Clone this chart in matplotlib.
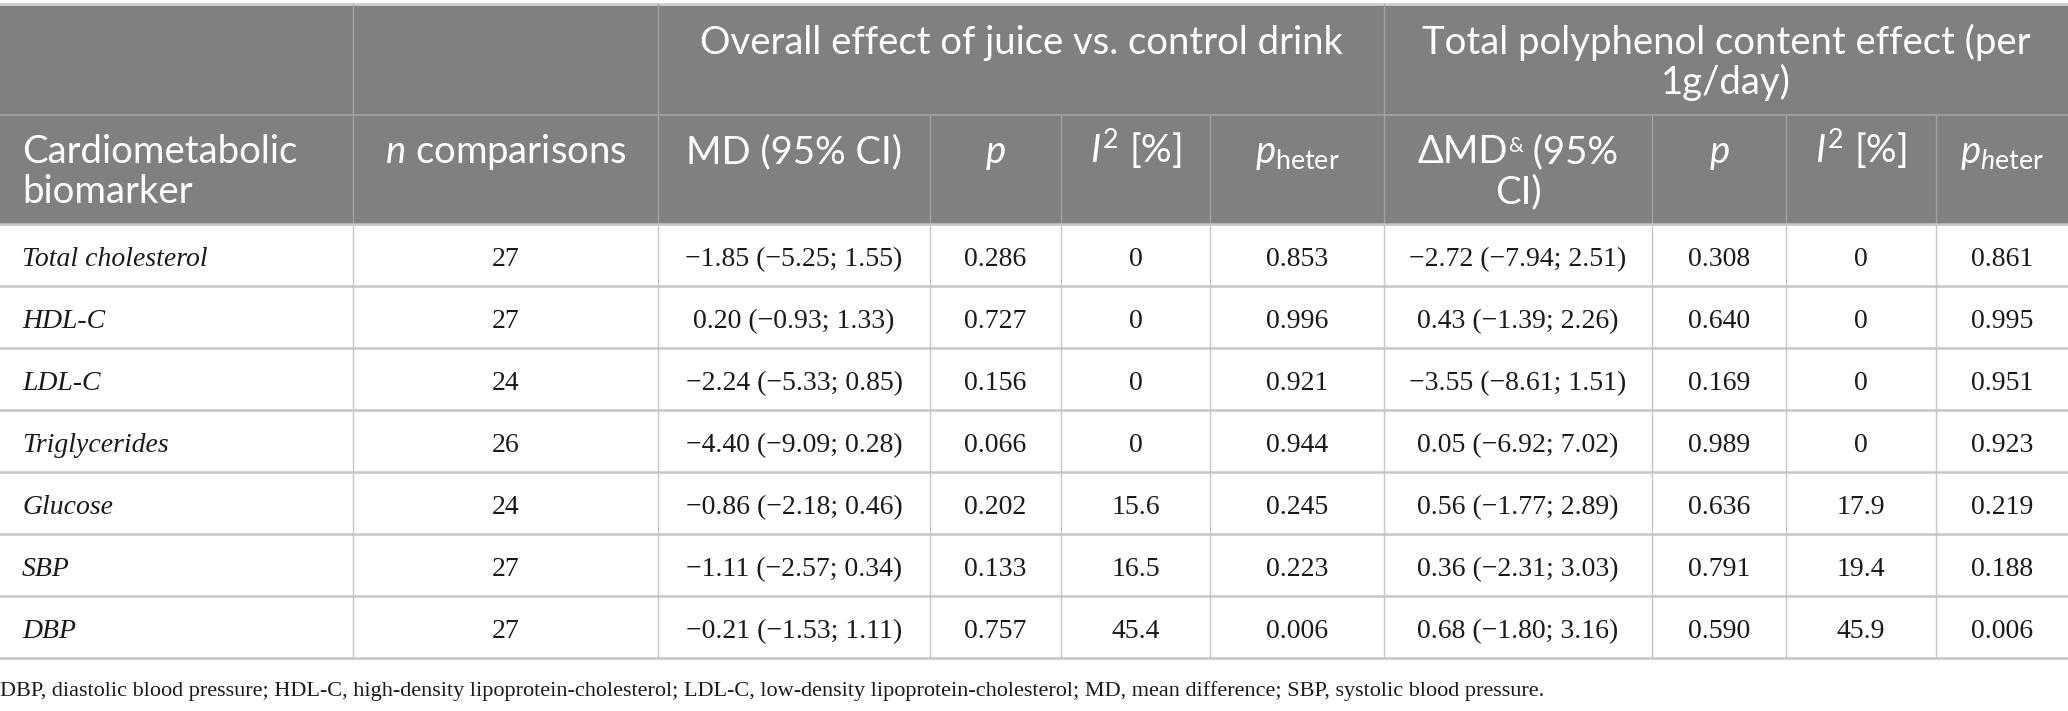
import matplotlib
matplotlib.use("Agg")
import matplotlib.pyplot as plt
from matplotlib.patches import Rectangle

# ---- data ----
biomarkers = ["Total cholesterol", "HDL-C", "LDL-C", "Triglycerides", "Glucose", "SBP", "DBP"]
n_comp = [27, 27, 24, 26, 24, 27, 27]

md_est = [-1.85, 0.20, -2.24, -4.40, -0.86, -1.11, -0.21]
md_lo = [-5.25, -0.93, -5.33, -9.09, -2.18, -2.57, -1.53]
md_hi = [1.55, 1.33, 0.85, 0.28, 0.46, 0.34, 1.11]
p_md = [0.286, 0.727, 0.156, 0.066, 0.202, 0.133, 0.757]
i2_md = [0, 0, 0, 0, 15.6, 16.5, 45.4]
ph_md = [0.853, 0.996, 0.921, 0.944, 0.245, 0.223, 0.006]

tpc_est = [-2.72, 0.43, -3.55, 0.05, 0.56, 0.36, 0.68]
tpc_lo = [-7.94, -1.39, -8.61, -6.92, -1.77, -2.31, -1.80]
tpc_hi = [2.51, 2.26, 1.51, 7.02, 2.89, 3.03, 3.16]
p_tpc = [0.308, 0.640, 0.169, 0.989, 0.636, 0.791, 0.590]
i2_tpc = [0, 0, 0, 0, 17.9, 19.4, 45.9]
ph_tpc = [0.861, 0.995, 0.951, 0.923, 0.219, 0.188, 0.006]

footnote = ("DBP, diastolic blood pressure; HDL-C, high-density lipoprotein-cholesterol; "
            "LDL-C, low-density lipoprotein-cholesterol; MD, mean difference; SBP, systolic blood pressure.")


def num(v, fmt="{:.2f}"):
    return fmt.format(v).replace("-", "\u2212")


def ci(e, lo, hi):
    return "{} ({}; {})".format(num(e), num(lo), num(hi))


def i2(v):
    return "0" if v == 0 else num(v, "{:.1f}")


rows = []
for k in range(len(biomarkers)):
    rows.append([biomarkers[k], str(n_comp[k]),
                 ci(md_est[k], md_lo[k], md_hi[k]), num(p_md[k], "{:.3f}"), i2(i2_md[k]), num(ph_md[k], "{:.3f}"),
                 ci(tpc_est[k], tpc_lo[k], tpc_hi[k]), num(p_tpc[k], "{:.3f}"), i2(i2_tpc[k]), num(ph_tpc[k], "{:.3f}")])

# ---- layout (pixels) ----
W, H = 2068, 711
cols = [0, 353, 658, 930, 1061, 1210, 1384, 1652, 1786, 1936, 2068]
top, h1, h2 = 4, 115, 224
row_h = 62

plt.rcParams["mathtext.fontset"] = "custom"
plt.rcParams["mathtext.rm"] = "Lato"
plt.rcParams["mathtext.it"] = "Lato:italic"

fig = plt.figure(figsize=(W / 100, H / 100), dpi=100)
ax = fig.add_axes([0, 0, 1, 1])
ax.set_xlim(0, W)
ax.set_ylim(H, 0)
ax.axis("off")

hdr_bg = "#808080"
hdr_line = "#a3a3a3"
body_line = "#c6c6c6"
sans = "Lato"
serif = "Liberation Serif"
hfs = 27.5
bfs = 20
txt = "#1a1a1a"

ax.add_patch(Rectangle((0, top), W, h2 - top, color=hdr_bg, zorder=0))

# header lines
ax.plot([0, W], [top, top], color="#cfcfcf", lw=2)
ax.plot([0, W], [h1, h1], color=hdr_line, lw=1.2)
for x in cols[1:-1]:
    y0 = top if x in (cols[1], cols[2], cols[6]) else h1
    ax.plot([x, x], [y0, h2], color=hdr_line, lw=1)

# body lines
nrows = len(rows)
bottom = h2 + row_h * nrows
for i in range(nrows + 1):
    ax.plot([0, W], [h2 + i * row_h] * 2, color=body_line, lw=1.8)
for x in cols[1:-1]:
    ax.plot([x, x], [h2, bottom], color=body_line, lw=1)

# group headers
g1, g2 = 54, 94
ax.text((cols[2] + cols[6]) / 2, g1, "Overall effect of juice vs. control drink",
        ha="center", va="baseline", color="white", fontsize=hfs, family=sans)
ax.text((cols[6] + cols[10]) / 2, g1, "Total polyphenol content effect (per",
        ha="center", va="baseline", color="white", fontsize=hfs, family=sans)
ax.text((cols[6] + cols[10]) / 2, g2, "1g/day)",
        ha="center", va="baseline", color="white", fontsize=hfs, family=sans)

# column headers
hy1, hy2 = 163, 203
ax.text(22, hy1, "Cardiometabolic", ha="left", va="baseline", color="white", fontsize=hfs, family=sans)
ax.text(22, hy2, "biomarker", ha="left", va="baseline", color="white", fontsize=hfs, family=sans)
sub = ["$\\mathit{n}$ comparisons", "MD (95% CI)", "$\\mathit{p}$", "$\\mathit{I}^{2}$ [%]",
       "$\\mathit{p}_{\\mathrm{heter}}$", None, "$\\mathit{p}$",
       "$\\mathit{I}^{2}$ [%]", "$\\mathit{p}_{\\mathit{h}\\mathrm{eter}}$"]
for j, s in enumerate(sub):
    if s is None:
        continue
    xc = (cols[j + 1] + cols[j + 2]) / 2
    ax.text(xc, hy1, s, ha="center", va="baseline", color="white", fontsize=hfs, family=sans)

# "ΔMD& (95%" with a superscript ampersand, built from pieces
fig.canvas.draw()
rend = fig.canvas.get_renderer()
inv = ax.transData.inverted()
pieces = [("\u0394MD", hfs, 0), ("&", hfs * 0.55, -11), (" (95%", hfs, 0)]
widths = []
for s, fs, dy in pieces:
    t = ax.text(0, 0, s, fontsize=fs, family=sans)
    widths.append(t.get_window_extent(rend).width)
    t.remove()
xpix = ax.transData.transform(((cols[6] + cols[7]) / 2, hy1))[0] - sum(widths) / 2
for (s, fs, dy), w in zip(pieces, widths):
    xd = inv.transform((xpix, 0))[0]
    ax.text(xd, hy1 + dy, s, ha="left", va="baseline", color="white", fontsize=fs, family=sans)
    xpix += w
ax.text((cols[6] + cols[7]) / 2, hy2, "CI)", ha="center", va="baseline", color="white", fontsize=hfs, family=sans)

# body
for i, r in enumerate(rows):
    yb = h2 + row_h * (i + 0.5) + 11.5
    ax.text(22, yb, r[0], ha="left", va="baseline", fontsize=bfs, family=serif, style="italic", color=txt)
    for j in range(1, len(r)):
        xc = (cols[j] + cols[j + 1]) / 2
        ax.text(xc, yb, r[j], ha="center", va="baseline", fontsize=bfs, family=serif, color=txt)

ax.text(0, 696, footnote, ha="left", va="baseline", fontsize=16, family=serif, color=txt)

fig.savefig("out.png", dpi=100)
